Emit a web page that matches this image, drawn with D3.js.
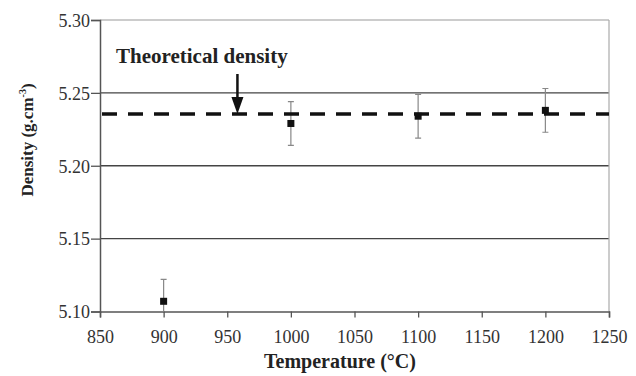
<!DOCTYPE html>
<html><head><meta charset="utf-8">
<script src="https://cdn.jsdelivr.net/npm/d3@7"></script>
<style>body{margin:0;background:#fff}svg{display:block}
svg text{font-family:'Liberation Serif','DejaVu Serif',serif}</style>
</head><body>
<svg id="c" width="636" height="376"></svg>
<script>
const temperatures = [900, 1000, 1100, 1200];
const densities = [5.107, 5.229, 5.234, 5.238];
const errors = [0.015, 0.015, 0.015, 0.015];
const theoreticalDensity = 5.2355;
const xTicks = [850, 900, 950, 1000, 1050, 1100, 1150, 1200, 1250];
const yTicks = [5.10, 5.15, 5.20, 5.25, 5.30];

const svg = d3.select("#c");
const m = {l: 100, r: 609, t: 20, b: 311.5};
const x = d3.scaleLinear().domain([850, 1250]).range([m.l, m.r]);
const y = d3.scaleLinear().domain([5.10, 5.30]).range([m.b, m.t]);
const font = "Liberation Serif, DejaVu Serif, serif";

// gridlines
svg.append("g").selectAll("line").data(yTicks.filter(d => d > 5.10)).join("line")
  .attr("x1", m.l).attr("x2", m.r).attr("y1", d => y(d)).attr("y2", d => y(d))
  .attr("stroke", d => d === 5.30 ? "#999" : "#444").attr("stroke-width", d => d === 5.30 ? 1.2 : 1.3);
// right border
svg.append("line").attr("x1", m.r).attr("x2", m.r).attr("y1", m.t).attr("y2", m.b)
  .attr("stroke", "#aaa").attr("stroke-width", 1.2);

// axes
const xAxis = svg.append("g").attr("transform", `translate(0,${m.b})`)
  .call(d3.axisBottom(x).tickValues(xTicks).tickFormat(d3.format("d")).tickSizeOuter(0).tickSize(6).tickPadding(12));
const yAxis = svg.append("g").attr("transform", `translate(${m.l},0)`)
  .call(d3.axisLeft(y).tickValues(yTicks).tickFormat(d3.format(".2f")).tickSizeOuter(0).tickSize(9).tickPadding(1));
[xAxis, yAxis].forEach(a => {
  a.attr("font-family", font).attr("font-size", 18);
  a.select(".domain").attr("stroke", "#555").attr("stroke-width", 1.5);
  a.selectAll(".tick line").attr("stroke", "#555").attr("stroke-width", 1.3);
  a.selectAll("text").attr("font-family", font).attr("font-weight", "normal").attr("fill", "#333");
});
xAxis.selectAll("text").attr("dy", "0.75em");
yAxis.selectAll("text").attr("dy", "0.35em");

// error bars
const clipId = "pc";
svg.append("clipPath").attr("id", clipId).append("rect")
  .attr("x", m.l).attr("y", m.t).attr("width", m.r - m.l).attr("height", m.b - m.t);
const eb = svg.append("g").attr("clip-path", `url(#${clipId})`).attr("stroke", "#888").attr("stroke-width", 1.2);
temperatures.forEach((t, i) => {
  const cx = x(t), y1 = y(densities[i] + errors[i]), y0 = y(densities[i] - errors[i]);
  eb.append("line").attr("x1", cx).attr("x2", cx).attr("y1", y1).attr("y2", y0);
  eb.append("line").attr("x1", cx - 3).attr("x2", cx + 3).attr("y1", y1).attr("y2", y1);
  eb.append("line").attr("x1", cx - 3).attr("x2", cx + 3).attr("y1", y0).attr("y2", y0);
});

// theoretical dashed line
svg.append("line").attr("x1", m.l + 2).attr("x2", m.r).attr("y1", y(theoreticalDensity)).attr("y2", y(theoreticalDensity))
  .attr("stroke", "#111").attr("stroke-width", 3.5).attr("stroke-dasharray", "15,11");

// markers
svg.append("g").selectAll("rect").data(temperatures).join("rect")
  .attr("x", d => x(d) - 3.5).attr("y", (d, i) => y(densities[i]) - 3.5)
  .attr("width", 7).attr("height", 7).attr("fill", "#111");

// annotation
svg.append("text").attr("x", 116).attr("y", 63).attr("font-family", font).attr("font-weight", "bold")
  .attr("font-size", 21).attr("fill", "#222").text("Theoretical density");
const ax = x(958);
svg.append("line").attr("x1", ax).attr("x2", ax).attr("y1", 74).attr("y2", 100)
  .attr("stroke", "#111").attr("stroke-width", 2.5);
svg.append("path").attr("d", `M${ax - 6},97 L${ax + 6},97 L${ax},${y(theoreticalDensity)} Z`).attr("fill", "#111");

// axis titles
svg.append("text").attr("x", 340).attr("y", 368).attr("text-anchor", "middle")
  .attr("font-family", font).attr("font-weight", "bold").attr("font-size", 20).attr("fill", "#222")
  .text("Temperature (°C)");
const yl = svg.append("text").attr("transform", "translate(33,140) rotate(-90)").attr("text-anchor", "middle")
  .attr("font-family", font).attr("font-weight", "bold").attr("font-size", 17).attr("fill", "#222");
yl.append("tspan").text("Density (g.cm");
yl.append("tspan").attr("font-size", 10).attr("dy", -7).text("-3");
yl.append("tspan").attr("dy", 7).text(")");
</script>
</body></html>
